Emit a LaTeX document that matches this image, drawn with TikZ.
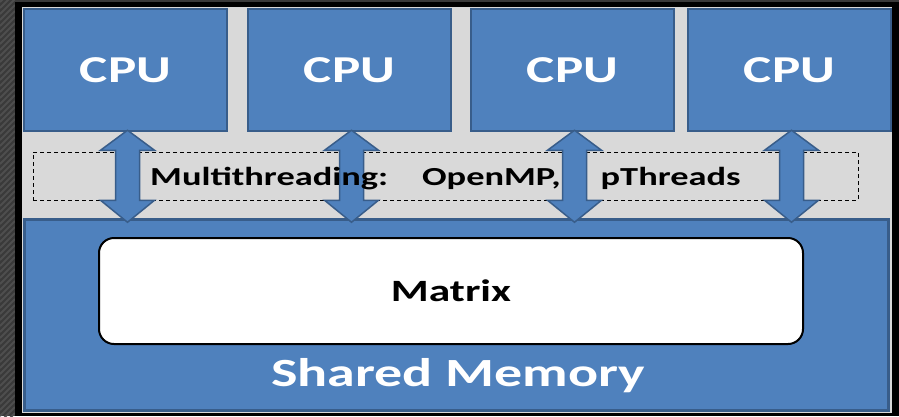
\documentclass[tikz,border=0pt]{standalone}
\usepackage{fontspec}
\usepackage{tikz}
\usetikzlibrary{calc}
\newfontfamily\wide[FakeStretch=1.4]{Carlito}
\definecolor{cpublue}{HTML}{4F81BD}
\definecolor{edgeblue}{HTML}{385D8A}
\definecolor{panelgray}{HTML}{D9D9D9}
\definecolor{darkbg}{HTML}{3A3A3A}
\definecolor{stripe}{HTML}{4E4E4E}

\begin{document}
\begin{tikzpicture}[x=1pt,y=-1pt,
  cpubox/.style={rectangle,draw=edgeblue,fill=cpublue,line width=2.5pt,
    minimum width=203pt,minimum height=122pt,inner sep=0pt,
    text=white,font=\wide\bfseries\fontsize{38}{40}\selectfont},
  membox/.style={rectangle,draw=edgeblue,fill=cpublue,line width=2.5pt,
    minimum width=864pt,minimum height=191pt,inner sep=0pt},
  matbox/.style={rectangle,draw=black,fill=white,line width=2pt,rounded corners=15pt,
    minimum width=704pt,minimum height=106pt,inner sep=0pt,
    font=\wide\bfseries\fontsize{31}{33}\selectfont},
  arrfill/.style={fill=cpublue,draw=edgeblue,line width=1.5pt,line join=miter}]

  \useasboundingbox (0,0) rectangle (899,416);
  % background and frame
  \fill[darkbg] (0,0) rectangle (899,416);
  \begin{scope}
    \clip (0,0) rectangle (15,416);
    \foreach \s in {-10,-4,...,440}
      \draw[stripe,line width=2pt] (0,\s) -- (15,\s-15);
  \end{scope}
  \fill[black] (15,2) rectangle (899,416);
  \fill[panelgray] (22,7) rectangle (892,413);

  \node[cpubox] (cpu1) at (125.5,70) {CPU};
  \node[cpubox] (cpu2) at (349.5,70) {CPU};
  \node[cpubox] (cpu3) at (572.5,70) {CPU};
  \node[cpubox] (cpu4) at (789.5,70) {CPU};

  \node[membox] (mem) at (456.5,315) {};
  \node[matbox] (matrix) at (451,291) {Matrix};
  \node[text=white,font=\wide\bfseries\fontsize{40}{42}\selectfont] (shared) at (458,376) {Shared Memory};

  \node[draw,dash pattern=on 4pt off 3pt,line width=0.8pt,
    minimum width=825pt,minimum height=48pt,inner sep=0pt] (threads) at (445.5,176) {};

  % double arrows cpu <-> memory
  \foreach \i in {1,...,4}
    \filldraw[arrfill] let \p1=($(cpu\i.south)+(2,0)$), \p2=(mem.north) in
      (\x1,\y1+2pt) -- (\x1+27pt,\y1-18pt) -- (\x1+12pt,\y1-18pt)
      -- (\x1+12pt,\y2+18pt) -- (\x1+27pt,\y2+18pt) -- (\x1,\y2-4pt)
      -- (\x1-27pt,\y2+18pt) -- (\x1-12pt,\y2+18pt) -- (\x1-12pt,\y1-18pt)
      -- (\x1-27pt,\y1-18pt) -- cycle;

  \node[anchor=base west,inner sep=0pt,font=\wide\bfseries\fontsize{26}{28}\selectfont] (mt)
    at (150,185) {Multithreading:\hspace{34pt}OpenMP,\hspace{40pt}pThreads};
\end{tikzpicture}
\end{document}
